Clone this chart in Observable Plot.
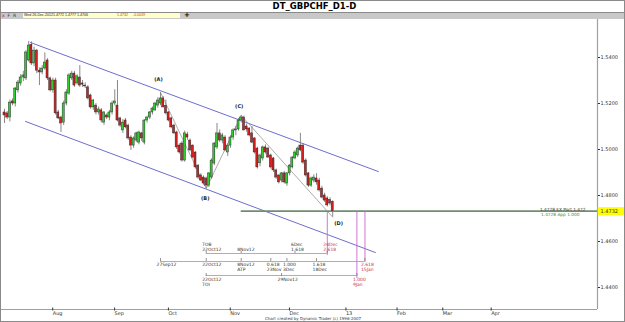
<!DOCTYPE html>
<html><head><meta charset="utf-8">
<script src="https://cdn.jsdelivr.net/npm/d3@7"></script>
<script src="https://cdn.jsdelivr.net/npm/@observablehq/plot@0.6"></script>
<style>
html,body{margin:0;padding:0;background:#fff;}
#wrap{position:relative;width:625px;height:322px;overflow:hidden;font-family:"DejaVu Sans",sans-serif;}
#title{position:absolute;left:2px;top:1px;width:625px;text-align:center;font-weight:bold;font-size:8.5px;line-height:10px;color:#000;}
#bar{position:absolute;left:0;top:12px;width:625px;height:7px;background:#c8c8c8;border-top:1px solid #8a8a8a;box-sizing:border-box;}
#info{position:absolute;left:23px;top:13px;width:157px;height:5px;background:#ffffcc;font-family:"Liberation Sans",sans-serif;font-size:3.6px;line-height:5px;white-space:pre;color:#222;}
#info span{position:absolute;top:0;}
#tools{position:absolute;left:2px;top:12.5px;font-size:4.5px;line-height:6px;color:#333;white-space:pre;}
#plus{position:absolute;left:184px;top:11px;font-size:7px;font-weight:bold;line-height:8px;}
#chart{position:absolute;left:0;top:19px;}
#credit{position:absolute;left:0;width:626px;top:315.5px;text-align:center;font-size:4px;line-height:5px;color:#333;}
#border{position:absolute;left:0;top:0;width:625px;height:322px;border:1px solid #8a8a8a;box-sizing:border-box;pointer-events:none;}
</style></head>
<body>
<div id="wrap">
  <div id="title"></div>
  <div id="bar"></div>
  <div id="tools"><span style="color:#c00">x</span>  F  R</div>
  <div id="info"></div>
  <div id="plus">+</div>
  <div id="chart"></div>
  <div id="credit"></div>
  <div id="border"></div>
</div>
<script>
// ---------- data ----------
const titleText = "DT_GBPCHF_D1-D";
const infoDate = "Wed 26-Dec-2012";
const infoValues = ["1.4772", "1.4777", "1.4706", "1.4732", "-0.0039"];
const creditText = "Chart created by Dynamic Trader  (c) 1996-2007";

// daily OHLC, bar index 0 = 9 Jul 2012 ... 122 = 26 Dec 2012 (trading days)
const opens = [1.5161,1.5157,1.5139,1.5209,1.5200,1.5257,1.5287,1.5313,1.5309,1.5387,
1.5455,1.5374,1.5430,1.5343,1.5335,1.5352,1.5387,1.5309,1.5257,1.5300,
1.5161,1.5139,1.5117,1.5200,1.5243,1.5309,1.5330,1.5287,1.5313,1.5287,
1.5278,1.5270,1.5235,1.5183,1.5191,1.5161,1.5170,1.5117,1.5148,1.5139,
1.5161,1.5200,1.5191,1.5135,1.5083,1.5126,1.5104,1.5052,1.5017,1.5039,
1.5030,1.5070,1.5030,1.5126,1.5139,1.5161,1.5170,1.5191,1.5200,1.5222,
1.5190,1.5161,1.5135,1.5104,1.5074,1.5017,1.5026,1.4952,1.5065,1.5039,
1.5017,1.4987,1.4930,1.4887,1.4878,1.4874,1.4843,1.4878,1.4939,1.5009,
1.5070,1.5039,1.5052,1.4987,1.5017,1.5052,1.5083,1.5087,1.5126,1.5139,
1.5100,1.5091,1.5070,1.5048,1.5004,1.4940,1.4961,1.5009,1.5004,1.4974,
1.4961,1.4909,1.4887,1.4865,1.4896,1.4852,1.4896,1.4922,1.4961,1.4974,
1.5017,1.5017,1.4952,1.4896,1.4843,1.4865,1.4874,1.4865,1.4830,1.4800,
1.4787,1.4780,1.4772];
const highs = [1.5175,1.5165,1.5215,1.5220,1.5270,1.5300,1.5325,1.5340,1.5430,1.5470,
1.5468,1.5445,1.5435,1.5355,1.5365,1.5420,1.5395,1.5315,1.5310,1.5310,
1.5170,1.5145,1.5210,1.5260,1.5330,1.5340,1.5340,1.5325,1.5365,1.5300,
1.5290,1.5278,1.5240,1.5218,1.5200,1.5185,1.5178,1.5165,1.5155,1.5170,
1.5210,1.5260,1.5300,1.5140,1.5130,1.5135,1.5110,1.5060,1.5055,1.5075,
1.5080,1.5075,1.5130,1.5145,1.5165,1.5185,1.5205,1.5225,1.5248,1.5230,
1.5215,1.5165,1.5140,1.5110,1.5080,1.5025,1.5035,1.5080,1.5075,1.5045,
1.5020,1.4990,1.4935,1.4895,1.4885,1.4880,1.4900,1.4960,1.5030,1.5113,
1.5085,1.5070,1.5060,1.5025,1.5060,1.5090,1.5100,1.5135,1.5148,1.5145,
1.5110,1.5095,1.5100,1.5052,1.5010,1.4980,1.5015,1.5020,1.5010,1.4980,
1.4965,1.4915,1.4890,1.4900,1.4905,1.4900,1.4935,1.4970,1.4995,1.5010,
1.5070,1.5025,1.4960,1.4900,1.4880,1.4890,1.4895,1.4875,1.4840,1.4810,
1.4795,1.4790,1.4777];
const lows = [1.5113,1.5130,1.5120,1.5190,1.5185,1.5245,1.5275,1.5295,1.5300,1.5380,
1.5365,1.5360,1.5330,1.5278,1.5325,1.5345,1.5300,1.5250,1.5245,1.5150,
1.5130,1.5074,1.5105,1.5190,1.5235,1.5300,1.5270,1.5280,1.5270,1.5270,
1.5265,1.5215,1.5175,1.5170,1.5150,1.5150,1.5115,1.5105,1.5130,1.5125,
1.5150,1.5190,1.5120,1.5095,1.5070,1.5090,1.5040,1.4996,1.5005,1.5030,
1.5020,1.5035,1.5020,1.5115,1.5130,1.5150,1.5165,1.5180,1.5190,1.5180,
1.5150,1.5120,1.5090,1.5065,1.5000,1.4980,1.4945,1.4945,1.5040,1.4990,
1.4960,1.4915,1.4870,1.4860,1.4845,1.4830,1.4835,1.4870,1.4930,1.5000,
1.5030,1.5025,1.4990,1.4970,1.5005,1.5040,1.5060,1.5080,1.5115,1.5080,
1.5075,1.5055,1.5025,1.4980,1.4915,1.4925,1.4950,1.4980,1.4960,1.4915,
1.4900,1.4870,1.4850,1.4855,1.4850,1.4840,1.4885,1.4915,1.4955,1.4965,
1.4990,1.4935,1.4880,1.4835,1.4835,1.4855,1.4845,1.4815,1.4785,1.4770,
1.4750,1.4755,1.4706];
const closes = [1.5148,1.5139,1.5204,1.5200,1.5265,1.5291,1.5313,1.5322,1.5422,1.5452,
1.5374,1.5430,1.5343,1.5335,1.5352,1.5378,1.5309,1.5257,1.5300,1.5157,
1.5135,1.5113,1.5200,1.5248,1.5322,1.5330,1.5278,1.5318,1.5278,1.5282,
1.5274,1.5222,1.5183,1.5213,1.5161,1.5174,1.5126,1.5161,1.5139,1.5161,
1.5200,1.5209,1.5126,1.5104,1.5117,1.5096,1.5048,1.5017,1.5048,1.5070,
1.5074,1.5048,1.5126,1.5139,1.5161,1.5178,1.5200,1.5213,1.5222,1.5183,
1.5157,1.5126,1.5096,1.5070,1.5009,1.4987,1.4952,1.5070,1.5052,1.4996,
1.4965,1.4922,1.4878,1.4865,1.4852,1.4843,1.4896,1.4952,1.5026,1.5070,
1.5039,1.5061,1.4996,1.5017,1.5052,1.5083,1.5087,1.5126,1.5139,1.5083,
1.5087,1.5061,1.5030,1.4987,1.4922,1.4974,1.5009,1.4987,1.4965,1.4922,
1.4909,1.4878,1.4857,1.4896,1.4857,1.4896,1.4930,1.4965,1.4987,1.5004,
1.4996,1.4943,1.4887,1.4843,1.4874,1.4878,1.4857,1.4822,1.4791,1.4778,
1.4757,1.4765,1.4732];

// x axis: month labels at bar positions
const monthTicks = [17, 40, 60, 83, 105, 126, 145, 162, 180];
const monthLabels = ["Aug", "Sep", "Oct", "Nov", "Dec", "13", "Feb", "Mar", "Apr"];
// y axis
const priceTicks = [1.44, 1.46, 1.48, 1.50, 1.52, 1.54];
const lastPrice = 1.4732;

// channel lines (bar index, price)
const upperChX = [9.7, 139], upperChY = [1.5465, 1.4904];
const lowerChX = [7.8, 137.9], lowerChY = [1.5122, 1.4552];
// wave points A, B, C, D (bar index)
const waveIdx = [58, 75, 88, 122];
const waveNames = ["(A)", "(B)", "(C)", "(D)"];

// horizontal target line
const targetStart = 88;
const targetText1 = "1.4728 EX Port 1.472";
const targetText2 = "1.4728 App 1.000";

// time projection rows
const row1Pos = [75, 88, 108, 120];
const row1Lab = ["TOB\n22Oct12", "8Nov12", "6Dec\n1.618", "24Dec\n2.618"];
const row1Hot = [false, false, false, true];
const row2Pos = [58, 75, 88, 99, 105, 116, 134];
const row2Lab = ["27Sep12", "22Oct12", "8Nov12\nATP", "0.618\n23Nov", "1.000\n3Dec", "1.618\n18Dec", "2.618\n15Jan"];
const row2Hot = [false, false, false, false, false, false, true];
const row3Pos = [75, 103, 131];
const row3Lab = ["22Oct12\nTOI", "29Nov12", "1.000\n9Jan"];
const row3Hot = [false, false, true];
const rowLevels = [1.45478, 1.45130, 1.44522];
// purple time lines
const timeLineX = [120, 131, 134];
const timeLineTop = [1.4728, 1.4728, 1.4728];
const timeLineBottom = [1.4539, 1.4439, 1.4509];

// ---------- page text ----------
document.getElementById("title").textContent = titleText;
document.getElementById("credit").textContent = creditText;
const info = document.getElementById("info");
const infoLeft = [1, 30, 42, 54, 94, 110];
const infoItems = [infoDate, ...infoValues];
infoItems.forEach((t, i) => {
  const s = document.createElement("span");
  s.textContent = t;
  s.style.left = infoLeft[i] + "px";
  if (i >= 4) s.style.color = "#d04000";
  info.appendChild(s);
});

// ---------- chart ----------
const candles = opens.map((o, i) => ({i, o, h: highs[i], l: lows[i], c: closes[i], up: closes[i] >= o}));
const dark = "#333", red = "#cc3333";
const xDomain = [-1.115, 220.45];
const yDomain = [1.54 - 252 / 2300, 1.54 + 38 / 2300];
const xMax = xDomain[1];
const pxY = 1 / 2300;

function rowMarks(pos, lab, hot, level, tickUp, tickDown, above) {
  const data = pos.map((p, i) => ({p, t: lab[i], hot: hot[i]}));
  const textOpts = {
    x: "p", y: above ? level + tickUp : level - tickDown, text: "t",
    textAnchor: "start", lineAnchor: above ? "bottom" : "top",
    dx: -4, dy: above ? -0.5 : 1, fontSize: 4.5, lineHeight: 1.1
  };
  return [
    Plot.ruleY([level], {x1: pos[0], x2: pos[pos.length - 1], stroke: "#9a9a9a", strokeWidth: 0.8}),
    Plot.ruleX(pos, {y1: level - tickDown, y2: level + tickUp, stroke: "#777", strokeWidth: 0.8}),
    Plot.text(data, {...textOpts, filter: d => !d.hot, fill: dark}),
    Plot.text(data, {...textOpts, filter: d => d.hot, fill: red})
  ];
}

const wave = waveIdx.map((i, k) => ({i, p: k % 2 === 0 ? highs[i] : lows[i], n: waveNames[k]}));

const chart = Plot.plot({
  width: 625, height: 303,
  marginTop: 0, marginBottom: 13, marginLeft: 1, marginRight: 28,
  x: {type: "linear", domain: xDomain},
  y: {type: "linear", domain: yDomain},
  style: {fontFamily: "DejaVu Sans, sans-serif", background: "white", overflow: "visible"},
  marks: [
    // channels
    Plot.line(upperChX.map((x, k) => [x, upperChY[k]]), {stroke: "#5c5cc8", strokeWidth: 0.9}),
    Plot.line(lowerChX.map((x, k) => [x, lowerChY[k]]), {stroke: "#5c5cc8", strokeWidth: 0.9}),
    // target line
    Plot.ruleY([lastPrice], {x1: targetStart, x2: xMax, stroke: "#6f8f6f", strokeWidth: 1.6}),
    Plot.text([targetText1], {x: xMax, y: lastPrice, text: d => d, textAnchor: "end", dx: -12, dy: -1.5, fontSize: 4.3, fill: "#333"}),
    Plot.text([targetText2], {x: xMax, y: lastPrice, text: d => d, textAnchor: "end", dx: -18, dy: 3, fontSize: 4.3, fill: "#3a8a3a"}),
    // purple time lines
    Plot.ruleX(timeLineX, {y1: (d, k) => timeLineTop[k], y2: (d, k) => timeLineBottom[k], stroke: "#cc66cc", strokeWidth: 0.9}),
    // wave connectors
    Plot.line(wave, {x: "i", y: "p", stroke: "#8a8a8a", strokeWidth: 0.7}),
    // candles
    Plot.ruleX(candles, {x: "i", y1: "l", y2: "h", stroke: "#7a7a7a", strokeWidth: 0.9}),
    Plot.rect(candles, {x1: d => d.i - 0.38, x2: d => d.i + 0.38, y1: "o", y2: "c",
      fill: d => d.up ? "#33cc33" : "#d42020", stroke: "#222", strokeWidth: 0.45}),
    // wave labels
    Plot.text([wave[0]], {x: "i", y: "p", text: "n", dx: -2, dy: -13, fontSize: 5, fontWeight: "bold", fill: "#222"}),
    Plot.text([wave[1]], {x: "i", y: "p", text: "n", dx: -1, dy: 10, fontSize: 5, fontWeight: "bold", fill: "#222"}),
    Plot.text([wave[2]], {x: "i", y: "p", text: "n", dx: -2, dy: -9, fontSize: 5, fontWeight: "bold", fill: "#222"}),
    Plot.text([wave[3]], {x: "i", y: "p", text: "n", dx: 6, dy: 6, fontSize: 5, fontWeight: "bold", fill: "#222"}),
    // projection rows
    ...rowMarks(row1Pos, row1Lab, row1Hot, rowLevels[0], 2 * pxY, 0, true),
    ...rowMarks(row2Pos, row2Lab, row2Hot, rowLevels[1], 3 * pxY, 0, false),
    ...rowMarks(row3Pos, row3Lab, row3Hot, rowLevels[2], 2 * pxY, 1 * pxY, false),
    // axes
    Plot.ruleX([xMax], {stroke: "#a0a0a0", strokeWidth: 1.2}),
    Plot.ruleY([yDomain[0]], {x1: xDomain[0] - 1, x2: xMax, stroke: "#a0a0a0", strokeWidth: 1}),
    Plot.ruleY([lastPrice], {x1: xMax + 0.3, x2: xMax + 11, stroke: "#ffff00", strokeWidth: 8}),
    Plot.axisY(priceTicks, {anchor: "right", tickSize: 2, tickPadding: 1, fontSize: 5, tickFormat: d => d.toFixed(4), color: "#333"}),
    Plot.text([lastPrice], {x: xMax, y: d => d, text: d => d.toFixed(4), textAnchor: "start", dx: 3, fontSize: 5, fill: "#333"}),
    Plot.axisX(monthTicks, {anchor: "bottom", tickSize: 3, tickPadding: 0, dy: -1.5, dx: 2.5, textAnchor: "start", fontSize: 5,
      tickFormat: d => monthLabels[monthTicks.indexOf(d)], color: "#333"})
  ]
});
document.getElementById("chart").appendChild(chart);
</script>
</body></html>
